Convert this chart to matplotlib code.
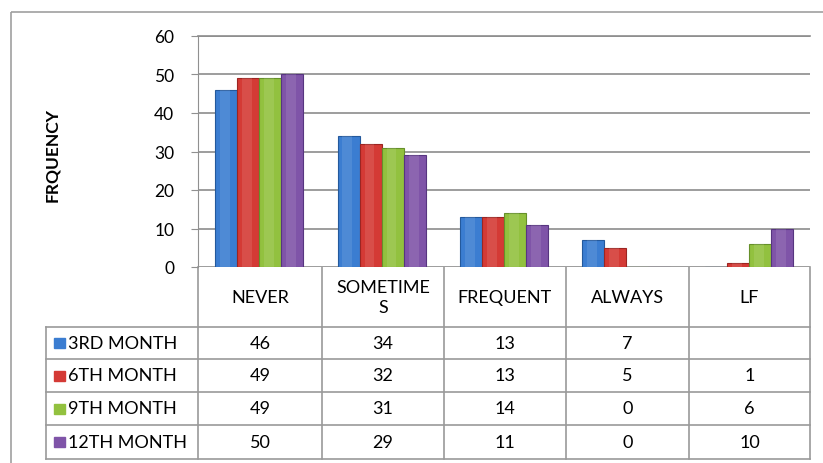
import matplotlib.pyplot as plt
from matplotlib.patches import Rectangle
import numpy as np

plt.rcParams['font.family'] = ['Lato', 'DejaVu Sans']

categories = ["NEVER", "SOMETIME\nS", "FREQUENT", "ALWAYS", "LF"]
series = ["3RD MONTH", "6TH MONTH", "9TH MONTH", "12TH MONTH"]
month3 = [46, 34, 13, 7, None]
month6 = [49, 32, 13, 5, 1]
month9 = [49, 31, 14, 0, 6]
month12 = [50, 29, 11, 0, 10]
values = [month3, month6, month9, month12]
colors = ["#3b7dd1", "#d43a35", "#92c13f", "#7f54a8"]
edges = ["#24599c", "#9c2522", "#66902a", "#573580"]

W, H = 823, 464
fig = plt.figure(figsize=(W / 100, H / 100), dpi=100)

# outer frame
frame = fig.add_axes([0, 0, 1, 1])
frame.set_xlim(0, W)
frame.set_ylim(H, 0)
frame.axis("off")
frame.add_patch(Rectangle((11, 13), 830, 470, fill=False, edgecolor="#a0a0a0", lw=1.2))

# bar area
x0, x1, ytop, ybot = 198, 810, 37, 268
ax = fig.add_axes([x0 / W, 1 - ybot / H, (x1 - x0) / W, (ybot - ytop) / H])
n = len(categories)
ax.set_xlim(0, n)
ax.set_ylim(0, 60)
ax.set_yticks(range(0, 61, 10))
ax.tick_params(axis="y", labelsize=12.5, length=5, color="#909090", pad=12)
ax.tick_params(axis="x", bottom=False, labelbottom=False)
ax.yaxis.grid(True, color="#8c8c8c", lw=1.2)
ax.set_axisbelow(True)
for s in ["right", "bottom"]:
    ax.spines[s].set_visible(False)
ax.spines["left"].set_color("#909090")
ax.spines["top"].set_color("#8c8c8c")
ax.spines["top"].set_linewidth(1.2)

bw = 0.18
xs = np.arange(n) + 0.5
for i, vals in enumerate(values):
    pos = xs + (i - 1.5) * bw
    h = [v if v is not None else 0 for v in vals]
    ax.bar(pos, h, width=bw, color=colors[i], edgecolor=edges[i], lw=0.8, zorder=3)
    # soft centre highlight for a bit of the 3D look
    ax.bar(pos - bw * 0.05, h, width=bw * 0.45, color="white", alpha=0.1, lw=0, zorder=4)

fig.text(52 / W, 1 - 155 / H, "FRQUENCY", rotation=90, fontsize=12.5, fontweight="bold",
         ha="center", va="center")

# data table
tx0 = 46
col_edges = [198, 322, 444, 566, 689, 810]
row_edges = [268, 328, 360, 393, 426, 460]
tab = frame
lc = "#9a9a9a"
for xe in col_edges:
    tab.plot([xe, xe], [row_edges[0], row_edges[-1]], color=lc, lw=1.2)
tab.plot([tx0, tx0], [row_edges[1], row_edges[-1]], color=lc, lw=1.2)
for ye in row_edges[1:]:
    tab.plot([tx0, col_edges[-1]], [ye, ye], color=lc, lw=1.2)

fs = 13
for j, cat in enumerate(categories):
    cx = (col_edges[j] + col_edges[j + 1]) / 2
    cy = (row_edges[0] + row_edges[1]) / 2
    tab.text(cx, cy, cat, ha="center", va="center", fontsize=fs, linespacing=1.25)

for i, name in enumerate(series):
    cy = (row_edges[i + 1] + row_edges[i + 2]) / 2
    tab.add_patch(Rectangle((54, cy - 5), 11, 10, color=colors[i]))
    tab.text(68, cy, name, ha="left", va="center", fontsize=fs)
    for j, v in enumerate(values[i]):
        cx = (col_edges[j] + col_edges[j + 1]) / 2
        if v is not None:
            tab.text(cx, cy, str(v), ha="center", va="center", fontsize=fs)

fig.savefig("out.png", dpi=100)
